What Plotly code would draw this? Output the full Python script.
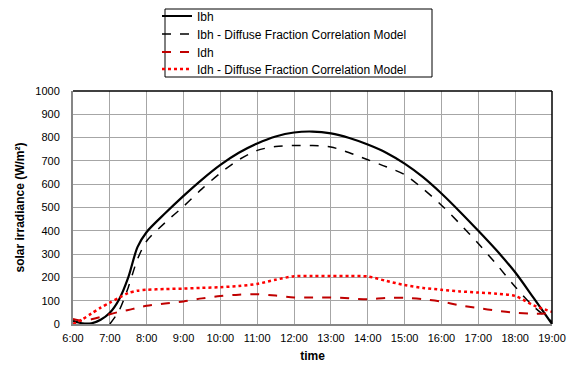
import plotly.graph_objects as go

# ---- data ----
times = ["06:00", "06:15", "06:30", "06:45", "07:00", "07:15", "07:30", "07:45",
         "08:00", "08:30", "09:00", "09:30", "10:00", "10:30", "11:00", "11:30",
         "12:00", "12:30", "13:00", "13:30", "14:00", "14:30", "15:00", "15:30",
         "16:00", "16:30", "17:00", "17:30", "18:00", "18:30", "19:00"]

ibh = [14, 3, 3, 18, 48, 105, 200, 330,
       395, 475, 550, 620, 683, 735, 775, 805,
       822, 826, 818, 798, 770, 735, 688, 630,
       560, 482, 400, 315, 222, 112, 0]

ibh_model = [None, None, None, None, 0, 57, 157, 278,
             356, 435, 505, 580, 648, 705, 745, 762,
             766, 766, 760, 735, 705, 675, 641, 580,
             510, 430, 345, 255, 160, 75, 10]

idh = [22, 14, 20, 30, 42, 52, 60, 70,
       78, 88, 97, 110, 120, 126, 128, 122,
       114, 114, 114, 110, 106, 112, 112, 106,
       96, 80, 68, 57, 48, 44, 46]

idh_model = [0, 20, 45, 70, 92, 113, 133, 143,
             147, 150, 152, 155, 158, 163, 172, 190,
             205, 206, 206, 206, 204, 185, 167, 155,
             147, 140, 135, 130, 120, 80, 52]

tick_labels = ["6:00", "7:00", "8:00", "9:00", "10:00", "11:00", "12:00",
               "13:00", "14:00", "15:00", "16:00", "17:00", "18:00", "19:00"]

series_names = ["Ibh", "Ibh - Diffuse Fraction Correlation Model",
                "Idh", "Idh - Diffuse Fraction Correlation Model"]

DAY = "2000-01-01 "
x = [DAY + t for t in times]
tick_vals = [DAY + ("0" + t if len(t) == 4 else t) for t in tick_labels]

# The page body adds an 8px margin, so figure coords = screen coords - 8
OFF = 8
W, H = 580 - OFF, 370 - OFF
# plot area in screen pixels: left 73, right 552, top 91, bottom 324
PL, PR, PT, PB = 73 - OFF, 552 - OFF, 91 - OFF, 324 - OFF
def px_x(p):
    return (p - OFF - PL) / (PR - PL)
def px_y(p):
    return (PB - (p - OFF)) / (PB - PT)

fig = go.Figure()
styles = [
    dict(color="black", width=2.2),
    dict(color="black", width=1.5, dash="dash"),
    dict(color="#C00000", width=2, dash="dash"),
    dict(color="#FF0000", width=2.5, dash="dot"),
]
series = [ibh, ibh_model, idh, idh_model]
legend_ids = ["legend", "legend2", "legend3", "legend4"]
for name, ys, st, lg in zip(series_names, series, styles, legend_ids):
    fig.add_trace(go.Scatter(x=x, y=ys, name=name, mode="lines", legend=lg,
                             line=dict(shape="spline", smoothing=0.8, **st)))

font_family = "Liberation Sans, Arial, sans-serif"

row_y = [16, 34, 52, 69]   # screen pixels of legend rows
legend_layout = {}
for lg, ry in zip(legend_ids, row_y):
    legend_layout[lg] = dict(x=px_x(157), y=px_y(ry), xanchor="left", yanchor="middle",
                             bgcolor="rgba(0,0,0,0)", borderwidth=0,
                             font=dict(size=12, family=font_family), itemwidth=30)

fig.update_layout(
    width=W, height=H,
    margin=dict(l=PL, r=W - PR, t=PT, b=H - PB, autoexpand=False),
    paper_bgcolor="white", plot_bgcolor="white",
    font=dict(family=font_family, size=11, color="black"),
    showlegend=True,
    xaxis=dict(type="date", range=[tick_vals[0], tick_vals[-1]],
               tickvals=tick_vals, ticktext=tick_labels,
               showgrid=True, gridcolor="#A6A6A6", gridwidth=1,
               showline=True, linecolor="#868686", linewidth=2,
               ticks="", zeroline=False, ticklabelstandoff=3,
               title=dict(text="<b>time</b>", font=dict(size=12), standoff=8)),
    yaxis=dict(range=[0, 1000], dtick=100,
               showgrid=True, gridcolor="#A6A6A6", gridwidth=1,
               showline=True, linecolor="#868686", linewidth=2,
               ticks="", zeroline=False, ticklabelstandoff=9,
               title=dict(text="<b>solar irradiance (W/m²)</b>", font=dict(size=12), standoff=8)),
    shapes=[
        dict(type="line", xref="paper", yref="paper", x0=0, x1=1, y0=1, y1=1,
             line=dict(color="black", width=1.5)),
        dict(type="line", xref="paper", yref="paper", x0=1, x1=1, y0=0, y1=1,
             line=dict(color="black", width=1.5)),
        dict(type="rect", xref="paper", yref="paper",
             x0=px_x(165), x1=px_x(432), y0=px_y(77), y1=px_y(9),
             line=dict(color="black", width=1), fillcolor="rgba(0,0,0,0)"),
    ],
    **legend_layout,
)

fig.write_html("out.html")
